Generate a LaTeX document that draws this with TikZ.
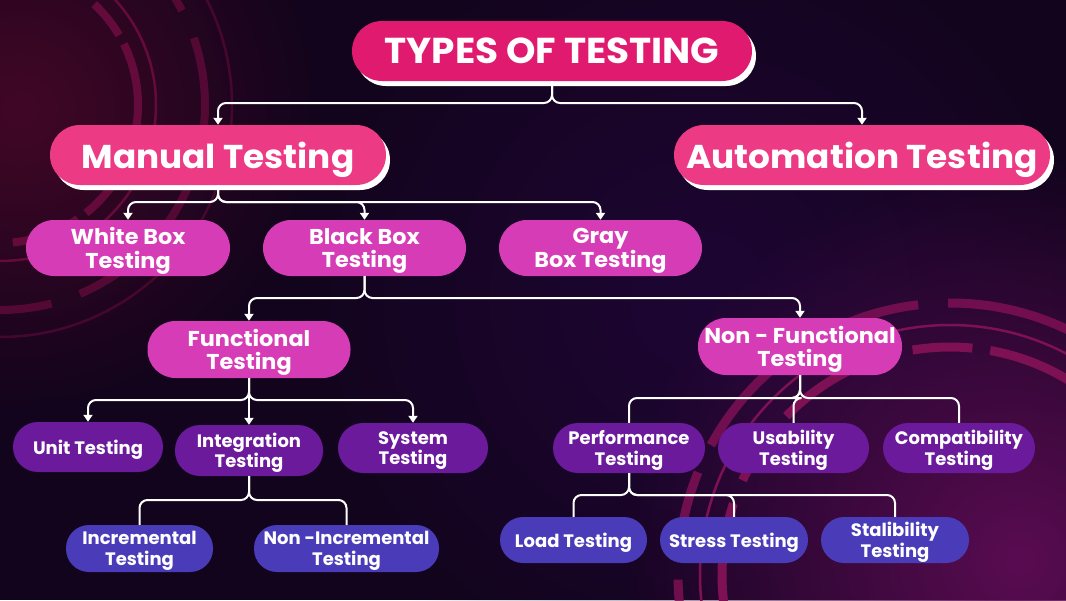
\documentclass[tikz,border=0pt]{standalone}
\usepackage{fontspec}
\setmainfont{Poppins}
\newfontfamily\widefont{Poppins}[FakeStretch=1.04]
\usetikzlibrary{arrows.meta,shadows,fadings}
\definecolor{bgc}{HTML}{12041C}
\definecolor{glowA}{HTML}{420726}
\definecolor{glowB}{HTML}{5A0C52}
\definecolor{glowC}{HTML}{1E0634}
\definecolor{ringA}{HTML}{650B3C}
\definecolor{ringB}{HTML}{7E1054}
\definecolor{titlec}{HTML}{E01A6E}
\definecolor{mainc}{HTML}{EC3A85}
\definecolor{lvtwo}{HTML}{D63CB5}
\definecolor{lvthree}{HTML}{6B1A9C}
\definecolor{lvfour}{HTML}{4A3CB8}
\tikzfading[name=glow, inner color=transparent!0, outer color=transparent!100]
\tikzset{
  pill/.style={rectangle, inner sep=0pt, align=center, text=white, text depth=0pt},
  topbox/.style={pill, fill=titlec, minimum height=60pt, rounded corners=30pt,
    font=\widefont\fontsize{36}{40}\selectfont\bfseries,
    drop shadow={shadow xshift=4pt, shadow yshift=-5pt, fill=white, opacity=1}},
  mainbox/.style={pill, fill=mainc, minimum height=60pt, rounded corners=30pt,
    font=\widefont\fontsize{33}{40}\selectfont\bfseries,
    drop shadow={shadow xshift=4pt, shadow yshift=-5pt, fill=white, opacity=1}},
  twobox/.style={pill, fill=lvtwo, rounded corners=28pt,
    font=\widefont\fontsize{21.5}{23.5}\selectfont\bfseries},
  threebox/.style={pill, fill=lvthree, rounded corners=25pt,
    font=\fontsize{18}{20.5}\selectfont\bfseries},
  fourbox/.style={pill, fill=lvfour, rounded corners=23pt,
    font=\fontsize{18}{20.5}\selectfont\bfseries},
  conn/.style={draw=white, line width=2pt, rounded corners=8pt},
  arr/.style={conn, -{Triangle[width=9pt,length=7pt]}},
  ringthick/.style={draw=#1, line width=8pt},
  ringthin/.style={draw=#1, line width=2.5pt}
}
\begin{document}
\begin{tikzpicture}[x=1pt,y=-1pt]
\useasboundingbox (0,0) rectangle (1066,600);
% background
\fill[bgc] (0,0) rectangle (1066,600);
\begin{scope}
\clip (0,0) rectangle (1066,600);
\fill[glowA, path fading=glow] (20,110) circle (300);
\fill[glowC, path fading=glow] (700,300) circle (420);
\fill[glowB, path fading=glow] (1020,560) circle (400);
% top-left rings
\draw[ringthick=ringA, dash pattern=on 70pt off 14pt on 40pt off 10pt] (0,105) circle (138);
\draw[ringthin=ringA] (0,105) circle (156);
\draw[ringthick=ringA, opacity=.75, dash pattern=on 50pt off 30pt on 90pt off 20pt] (0,105) circle (205);
\draw[ringthin=ringA, opacity=.55] (0,105) circle (232);
% bottom-right rings
\draw[ringthick=ringB, line width=9pt, dash pattern=on 120pt off 25pt on 60pt off 18pt] (950,575) circle (228);
\draw[ringthin=ringB] (950,575) circle (250);
\draw[ringthick=ringB, line width=9pt, opacity=.85, dash pattern=on 90pt off 30pt on 150pt off 20pt] (950,575) circle (272);
\end{scope}
% nodes
\node[topbox, minimum width=400pt] (title) at (552,51) {TYPES OF TESTING};
\node[mainbox, minimum width=336pt] (manual) at (218,155) {Manual Testing};
\node[mainbox, minimum width=376pt] (auto) at (862,155) {Automation Testing};
\node[twobox, minimum width=204pt, minimum height=56pt] (white) at (128,248) {White Box\\Testing};
\node[twobox, minimum width=203pt, minimum height=56pt] (black) at (364.5,248) {Black Box\\Testing};
\node[twobox, minimum width=203pt, minimum height=56pt] (gray) at (600.5,248) {Gray\\Box Testing};
\node[twobox, minimum width=203pt, minimum height=57pt] (func) at (249,349.5) {Functional\\Testing};
\node[twobox, minimum width=204pt, minimum height=57pt] (nonfunc) at (800,346.5) {Non - Functional\\Testing};
\node[threebox, minimum width=150pt, minimum height=50pt] (unit) at (88,447) {Unit Testing};
\node[threebox, minimum width=148pt, minimum height=51pt] (integ) at (249,450.5) {Integration\\Testing};
\node[threebox, minimum width=150pt, minimum height=50pt] (system) at (413,448) {System\\Testing};
\node[threebox, minimum width=152pt, minimum height=50pt] (perf) at (629,448) {Performance\\Testing};
\node[threebox, minimum width=151pt, minimum height=50pt] (usab) at (793.5,448) {Usability\\Testing};
\node[threebox, minimum width=152pt, minimum height=50pt] (compat) at (959,448) {Compatibility\\Testing};
\node[fourbox, minimum width=147pt, minimum height=47pt] (inc) at (139.5,548.5) {Incremental\\Testing};
\node[fourbox, minimum width=185pt, minimum height=47pt] (noninc) at (346.5,548.5) {Non -Incremental\\Testing};
\node[fourbox, minimum width=147pt, minimum height=46pt] (load) at (573.5,540) {Load Testing};
\node[fourbox, minimum width=148pt, minimum height=46pt] (stress) at (734,540) {Stress Testing};
\node[fourbox, minimum width=148pt, minimum height=46pt] (stal) at (895,540) {Stalibility\\Testing};
% junction levels
\coordinate (h0) at (0,103);
\coordinate (h1) at (0,202);
\coordinate (h2) at (0,298);
\coordinate (h3) at (0,400);
\coordinate (h4) at (0,398);
\coordinate (h5) at (0,500);
\coordinate (h6) at (0,495);
% connectors
\draw[arr] (title.south) -- (title.south |- h0) -| (manual.north);
\draw[arr] (title.south) -- (title.south |- h0) -| (auto.north);
\draw[arr] (manual.south) -- (manual.south |- h1) -| (white.north);
\draw[arr] (manual.south) -- (manual.south |- h1) -| (black.north);
\draw[arr] (manual.south) -- (manual.south |- h1) -| (gray.north);
\draw[arr] (black.south) -- (black.south |- h2) -| (func.north);
\draw[arr] (black.south) -- (black.south |- h2) -| (nonfunc.north);
\draw[arr] (func.south) -- (func.south |- h3) -| (unit.north);
\draw[arr] (func.south) -- (integ.north);
\draw[arr] (func.south) -- (func.south |- h3) -| (system.north);
\draw[conn] (nonfunc.south) -- (nonfunc.south |- h4) -| (perf.north);
\draw[conn] (nonfunc.south) -- (nonfunc.south |- h4) -| (usab.north);
\draw[conn] (nonfunc.south) -- (nonfunc.south |- h4) -| (compat.north);
\draw[conn] (integ.south) -- (integ.south |- h5) -| (inc.north);
\draw[conn] (integ.south) -- (integ.south |- h5) -| (noninc.north);
\draw[conn] (perf.south) -- (perf.south |- h6) -| (load.north);
\draw[conn] (perf.south) -- (perf.south |- h6) -| (stress.north);
\draw[conn] (perf.south) -- (perf.south |- h6) -| (stal.north);
\end{tikzpicture}
\end{document}
